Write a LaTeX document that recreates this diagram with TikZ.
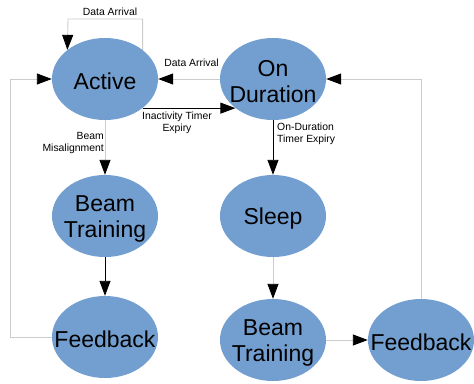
\documentclass[tikz,border=0pt]{standalone}
\usepackage{fontspec}
\setmainfont{Liberation Sans}
\usetikzlibrary{arrows.meta,shapes.geometric,backgrounds}
\definecolor{stfill}{HTML}{729FCF}
\definecolor{lgrey}{HTML}{CCCCCC}
\begin{document}
\begin{tikzpicture}[x=1pt,y=-1pt,
  state/.style={ellipse,fill=stfill,minimum width=106pt,minimum height=82pt,inner sep=0pt,
    label={[stext]center:#1}},
  stext/.style={align=center,inner sep=0pt,yshift=-2.5pt,font=\fontsize{23}{26}\selectfont},
  lbl/.style={font=\fontsize{10.4}{12}\selectfont,inner sep=0pt},
  tip/.style={-{Triangle[length=15pt,width=11pt,color=black]}},
  blk/.style={draw=black,line width=0.9pt,tip},
  gry/.style={draw=lgrey,line width=0.9pt,tip}]
\useasboundingbox (0,0) rectangle (474,383);
\node[state={Active}] (A) at (105,79) {};
\node[state={On\\Duration}] (O) at (273,79) {};
\node[state={Beam\\Training}] (B1) at (105,216) {};
\node[state={Feedback}] (F1) at (105,337) {};
\node[state={Sleep}] (S) at (273,216) {};
\node[state={Beam\\Training}] (B2) at (273,340) {};
\node[state={Feedback}] (F2) at (421,340) {};
\coordinate (lt) at (68,19);
\coordinate (lf) at (10,337);
\coordinate (rf) at (421,79);
\begin{scope}[on background layer]
\draw[gry] (A.north east) |- (lt) -- (A.north west);
\draw[gry] (O.west) -- (A.east);
\draw[blk] (A.south east) -- (O.south west);
\draw[gry] (A.south) -- (B1.north);
\draw[blk] (B1.south) -- (F1.north);
\draw[gry] (F1.west) -- (lf) |- (A.west);
\draw[blk] (O.south) -- (S.north);
\draw[gry] (S.south) -- (B2.north);
\draw[gry] (B2.east) -- (F2.west);
\draw[gry] (F2.north) -- (rf) -- (O.east);
\end{scope}
\node[lbl] (l1) at (110,12) {Data Arrival};
\node[lbl] (l2) at (191.5,63) {Data Arrival};
\node[lbl,align=center] (l3) at (177,122.5) {Inactivity Timer\\Expiry};
\node[lbl,align=right,anchor=east] (l4) at (104,143) {Beam\\Misalignment};
\node[lbl,align=left,anchor=west] (l5) at (277,134) {On-Duration\\Timer Expiry};
\end{tikzpicture}
\end{document}
